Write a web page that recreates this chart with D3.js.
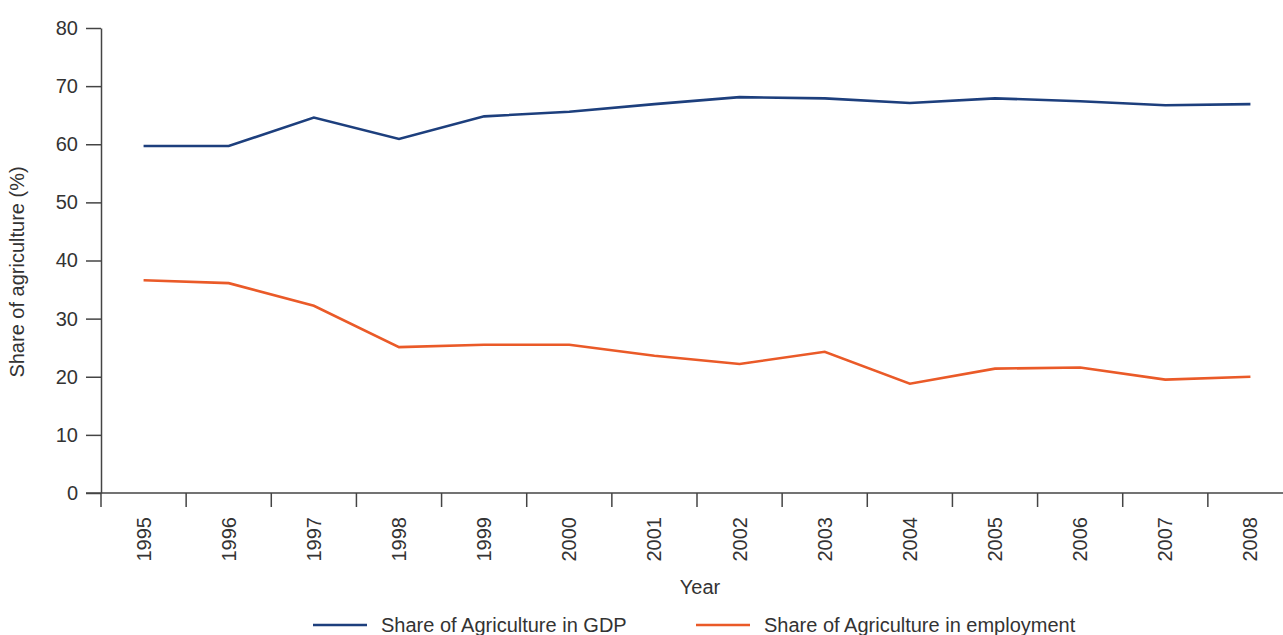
<!DOCTYPE html>
<html>
<head>
<meta charset="utf-8">
<script src="https://cdn.jsdelivr.net/npm/d3@7"></script>
<style>
  html, body { margin: 0; padding: 0; background: #fff; overflow: hidden; }
  svg { display: block; }
  text { font-family: "Liberation Sans", Arial, sans-serif; fill: #333; }
</style>
</head>
<body>
<svg id="chart" width="1283" height="635"></svg>
<script>
const years = ["1995","1996","1997","1998","1999","2000","2001","2002","2003","2004","2005","2006","2007","2008"];
const gdpShare = [59.7, 59.7, 64.6, 60.9, 64.8, 65.6, 66.9, 68.1, 67.9, 67.1, 67.9, 67.4, 66.7, 66.9];
const employmentShare = [36.6, 36.1, 32.2, 25.1, 25.5, 25.5, 23.6, 22.2, 24.3, 18.8, 21.4, 21.6, 19.5, 20.0];
const yTicks = [0, 10, 20, 30, 40, 50, 60, 70, 80];
const seriesNames = ["Share of Agriculture in GDP", "Share of Agriculture in employment"];
const seriesColors = ["#1d3f7d", "#ea5a28"];

const FS = "20px";
const svg = d3.select("#chart");
const x = d3.scaleBand().domain(years).range([101, 1293]).padding(0);
const y = d3.scaleLinear().domain([0, 80]).range([493, 28]);

// Y axis
const yAxis = svg.append("g").attr("transform", "translate(101,0)")
  .call(d3.axisLeft(y).tickValues(yTicks).tickSize(15).tickPadding(8).tickSizeOuter(0));
yAxis.select(".domain").attr("stroke", "#444").attr("stroke-width", 1.5);
yAxis.selectAll(".tick line").attr("stroke", "#444").attr("stroke-width", 1.5);
yAxis.selectAll(".tick text").style("font-size", FS).attr("fill", "#333")
  .style("font-family", '"Liberation Sans", Arial, sans-serif');

// X axis: tick marks at band boundaries
const xAxisG = svg.append("g").attr("transform", "translate(0,493)");
xAxisG.append("line").attr("x1", 86).attr("x2", 1293).attr("y1", 0).attr("y2", 0)
  .attr("stroke", "#444").attr("stroke-width", 1.5);
const boundaries = years.map(d => x(d)).concat([x(years[years.length-1]) + x.bandwidth()]);
xAxisG.selectAll("line.tk").data(boundaries).join("line").attr("class","tk")
  .attr("x1", d => d).attr("x2", d => d).attr("y1", 0).attr("y2", 14)
  .attr("stroke", "#444").attr("stroke-width", 1.5);
xAxisG.selectAll("text.lbl").data(years).join("text").attr("class","lbl")
  .attr("transform", d => `translate(${x(d) + x.bandwidth()/2 + 7},24) rotate(-90)`)
  .attr("text-anchor", "end")
  .style("font-size", FS)
  .text(d => d);

// Axis titles
svg.append("text")
  .attr("transform", "translate(24,272) rotate(-90)")
  .attr("text-anchor", "middle")
  .style("font-size", FS)
  .text("Share of agriculture (%)");
svg.append("text")
  .attr("x", 700).attr("y", 594)
  .attr("text-anchor", "middle")
  .style("font-size", FS)
  .text("Year");

// Lines
const line = d3.line().x((d, i) => x(years[i]) + x.bandwidth()/2).y(d => y(d));
[gdpShare, employmentShare].forEach((s, k) => {
  svg.append("path").datum(s)
    .attr("fill", "none")
    .attr("stroke", seriesColors[k])
    .attr("stroke-width", 2.6)
    .attr("stroke-linejoin", "miter")
    .attr("d", line);
});

// Legend
const legendX = [313, 696];
seriesNames.forEach((name, k) => {
  const g = svg.append("g").attr("transform", `translate(${legendX[k]},625)`);
  g.append("line").attr("x1", 0).attr("x2", 54).attr("y1", 0).attr("y2", 0)
    .attr("stroke", seriesColors[k]).attr("stroke-width", 2.6);
  g.append("text").attr("x", 68).attr("y", 7).style("font-size", FS).text(name);
});
</script>
</body>
</html>
